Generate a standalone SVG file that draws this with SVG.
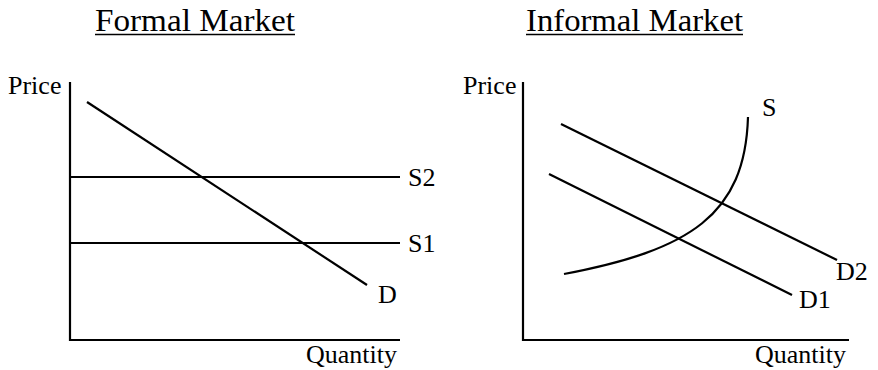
<svg xmlns="http://www.w3.org/2000/svg" width="878" height="370" viewBox="0 0 878 370">
<style>
text{font-family:"Liberation Serif","Times New Roman",serif;fill:#000}
.t{font-size:32px}
.l{font-size:26px}
.ln{stroke:#000;stroke-width:2.2;fill:none}
.ax{stroke:#000;stroke-width:2.2;fill:none}
.u{stroke:#000;stroke-width:1.6}
</style>
<rect width="878" height="370" fill="#fff"/>
<g id="formal-title"><text class="t" x="95" y="31" textLength="200" lengthAdjust="spacingAndGlyphs">Formal Market</text><line class="u" x1="95" y1="34.5" x2="295" y2="34.5"/></g>
<g id="informal-title"><text class="t" x="526" y="31" textLength="217" lengthAdjust="spacingAndGlyphs">Informal Market</text><line class="u" x1="526" y1="34.5" x2="743" y2="34.5"/></g>
<g id="formal-axes">
<path class="ax" d="M70,82 V340 H400"/>
<text class="l" x="8" y="94">Price</text>
<text class="l" x="306" y="363">Quantity</text>
</g>
<g id="informal-axes">
<path class="ax" d="M523,82 V340 H849"/>
<text class="l" x="463" y="94">Price</text>
<text class="l" x="755" y="363">Quantity</text>
</g>
<g id="connectors">
<line class="ln" x1="87" y1="102" x2="367" y2="285"/>
<line class="ln" x1="70" y1="177" x2="400" y2="177"/>
<line class="ln" x1="70" y1="243" x2="400" y2="243"/>
<path class="ln" d="M564,274 C690,250 745,215 748,117"/>
<line class="ln" x1="561" y1="124" x2="837" y2="260"/>
<line class="ln" x1="549" y1="174" x2="792" y2="295"/>
</g>
<g id="labels">
<text class="l" x="408" y="186">S2</text>
<text class="l" x="408" y="252">S1</text>
<text class="l" x="378" y="303">D</text>
<text class="l" x="762" y="116">S</text>
<text class="l" x="836" y="280">D2</text>
<text class="l" x="799" y="308">D1</text>
</g>
</svg>
